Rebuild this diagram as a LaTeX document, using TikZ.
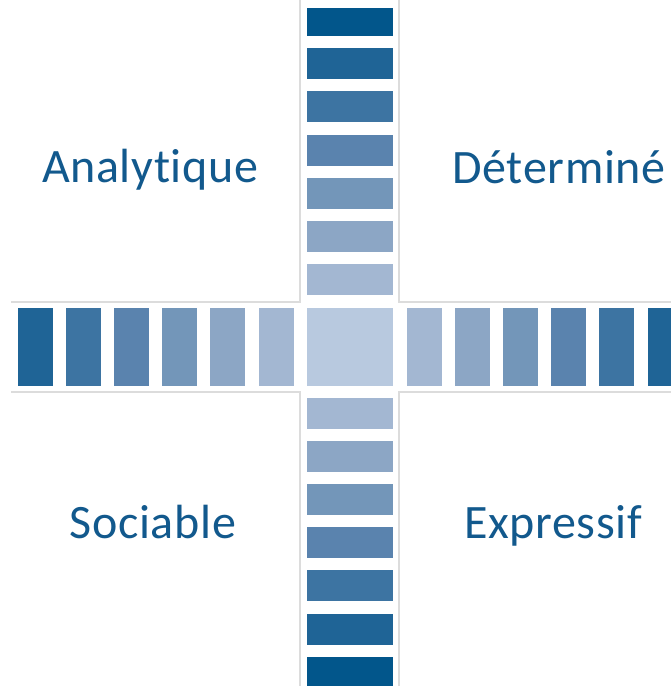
\documentclass[tikz,border=0pt]{standalone}
\usepackage{fontspec}
\setmainfont{Carlito}[Ligatures={NoCommon},LetterSpace=1.3]
\definecolor{shadeA}{HTML}{02568B}
\definecolor{shadeB}{HTML}{1F6496}
\definecolor{shadeC}{HTML}{3D74A2}
\definecolor{shadeD}{HTML}{5A83AE}
\definecolor{shadeE}{HTML}{7396B9}
\definecolor{shadeF}{HTML}{8CA6C5}
\definecolor{shadeG}{HTML}{A3B7D2}
\definecolor{shadeH}{HTML}{B8C9DF}
\definecolor{gridgray}{HTML}{DCDCDC}
\definecolor{labelblue}{HTML}{12598D}
\tikzset{
  bar/.style={draw=white!70!shadeH,line width=0.8pt},
  border/.style={gridgray,line width=1.5pt},
  quadlabel/.style={labelblue,anchor=base,inner sep=0pt,font=\fontsize{48}{52}\selectfont}
}
\begin{document}
\begin{tikzpicture}[x=1pt,y=-1pt]
    \useasboundingbox (0,0) rectangle (671,686);
    \fill[white] (0,0) rectangle (671,686);

    % Quadrant borders
    \draw[border] (11,302) -- (300,302) -- (300,0);
    \draw[border] (671,302) -- (399,302) -- (399,0);
    \draw[border] (11,392) -- (300,392) -- (300,686);
    \draw[border] (671,392) -- (399,392) -- (399,686);

    % Vertical column (top)
    \fill[bar,shadeA] (307,8) rectangle (392,35);
    \foreach \i/\c in {1/shadeB,2/shadeC,3/shadeD,4/shadeE,5/shadeF,6/shadeG}
        \fill[bar,\c] (307,{35+43.3*\i-30}) rectangle (392,{35+43.3*\i});

    % Vertical column (bottom)
    \foreach \i/\c in {0/shadeG,1/shadeF,2/shadeE,3/shadeD,4/shadeC,5/shadeB,6/shadeA}
        \fill[bar,\c] (307,{398+43.2*\i}) rectangle (392,{428+43.2*\i});

    % Horizontal row (left and right)
    \foreach \i/\c in {0/shadeB,1/shadeC,2/shadeD,3/shadeE,4/shadeF,5/shadeG}
        \fill[bar,\c] ({18+48.2*\i},308) rectangle ({52+48.2*\i},385);
    \foreach \i/\c in {0/shadeG,1/shadeF,2/shadeE,3/shadeD,4/shadeC,5/shadeB}
        \fill[bar,\c] ({407+48.2*\i},308) rectangle ({441+48.2*\i},385);

    % Centre square
    \fill[bar,shadeH] (307,308) rectangle (392,385);

    % Quadrant labels
    \node[quadlabel] (ana) at (150,182) {Analytique};
    \node[quadlabel] (det) at (559,183) {Déterminé};
    \node[quadlabel] (soc) at (153,538) {Sociable};
    \node[quadlabel] (exp) at (553,538) {Expressif};
\end{tikzpicture}
\end{document}
